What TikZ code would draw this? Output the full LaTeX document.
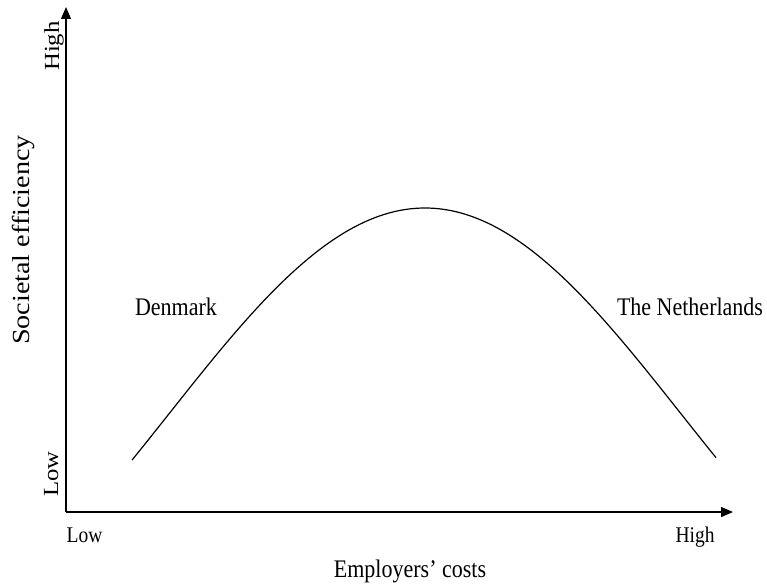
\documentclass[tikz,border=0pt]{standalone}
\usepackage{fontspec}
\setmainfont{Liberation Serif}
\usetikzlibrary{arrows.meta}
\newcommand{\hs}[1]{\scalebox{1}[1.15]{#1}}
\newcommand{\vs}[1]{\scalebox{1.15}[1]{#1}}
\tikzset{
  axis/.style={line width=1.3pt, -{Triangle[length=12pt,width=10pt]}},
  curveline/.style={line width=1.2pt},
  big/.style={font=\fontsize{22}{26}\selectfont, inner sep=0pt, anchor=base},
  tick/.style={font=\fontsize{19.5}{23}\selectfont, inner sep=0pt, anchor=base},
  vtick/.style={font=\fontsize{21.5}{25}\selectfont, inner sep=0pt, anchor=base, rotate=90},
  vlabel/.style={font=\fontsize{24.5}{28}\selectfont, inner sep=0pt, anchor=base, rotate=90}
}
\begin{document}
\begin{tikzpicture}[x=1pt,y=-1pt]
\useasboundingbox (0,0) rectangle (767,586);
\coordinate (O) at (66,512);
\coordinate (Ytop) at (66,7);
\coordinate (Xend) at (733,512);
\draw[axis] (O) -- (Ytop);
\draw[axis] (O) -- (Xend);
\draw[curveline] plot[domain=132:716, samples=120, smooth] (\x, {208+205.4*(1-cos(0.352*(\x-425)))});
\node[big] (dk) at (176,315) {\hs{Denmark}};
\node[big] (nl) at (690,315) {\hs{The Netherlands}};
\node[big] (xl) at (410,577) {\hs{Employers’ costs}};
\node[tick] (xlow) at (84.5,542) {\hs{Low}};
\node[tick] (xhigh) at (695,542) {\hs{High}};
\node[vtick] (ylow) at (58,474) {\vs{Low}};
\node[vtick] (yhigh) at (59,46) {\vs{High}};
\node[vlabel] (yl) at (29,240) {\vs{Societal efficiency}};
\end{tikzpicture}
\end{document}
